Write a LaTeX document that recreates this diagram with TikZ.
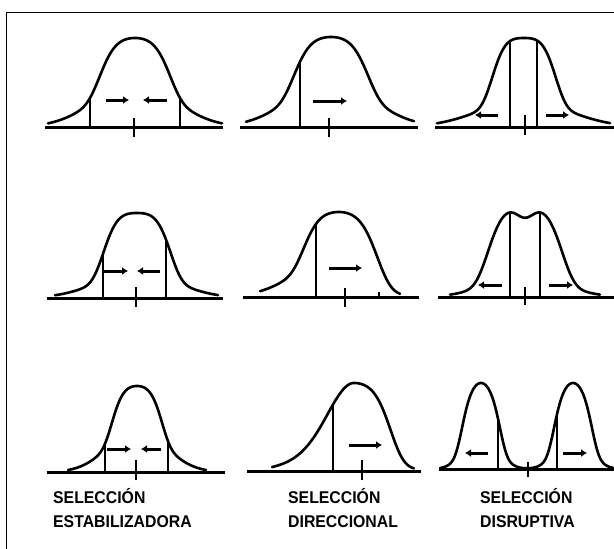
\documentclass[tikz,border=0pt]{standalone}
\usepackage{fontspec}
\usepackage{graphicx}
\setmainfont{Liberation Sans}
\usetikzlibrary{arrows.meta}
\newcommand{\lbltext}[1]{\scalebox{0.93}[1]{#1}}
\begin{document}
\begin{tikzpicture}[x=1pt,y=-1pt,
  declare function={
    Q(\dd,\ww)=exp(0-((abs(\dd)/\ww)^4));
    N(\dd,\ww)=exp(0-((abs(\dd)/\ww)^2));
    ca(\x)=127-89*(0.5*Q(\x-135,38)+0.5*N(\x-135,55));
    cb(\x)=127-90*(0.5*Q(\x-331,40)+0.5*N(\x-331,58));
    cc(\x)=127-89*(0.7*Q(\x-524,34)+0.3*N(\x-524,62));
    cd(\x)=298-85*(0.7*Q(\x-137,36)+0.3*N(\x-137,55));
    ce(\x)=297-85*((\x<339)?(0.5*Q(\x-339,38)+0.5*N(\x-339,56)):(0.7*Q(\x-339,42)+0.3*N(\x-339,40)));
    cf(\x)=297-90*(0.75*Q(\x-525,40)+0.25*N(\x-525,50)-0.12*N(\x-525,12));
    cg(\x)=472-86*(0.5*Q(\x-137,27)+0.5*N(\x-137,39.5));
    ch(\x)=471-88*((\x<354)?(0.6*N(\x-354,34)+0.4*N(\x-354,55)):(0.7*Q(\x-354,40)+0.3*N(\x-354,38)));
    ci(\x)=469-86*(0.5*Q(\x-481,21)+0.5*N(\x-481,21)+0.5*Q(\x-573,21)+0.5*N(\x-573,21));
  },
  distcurve/.style={line width=2.6pt, line join=round, line cap=round},
  baseaxis/.style={line width=3pt},
  cutline/.style={line width=2.4pt},
  thincut/.style={line width=1.3pt},
  midcut/.style={line width=1.8pt},
  meantick/.style={line width=2.4pt},
  selarrow/.style={line width=3pt, -{Latex[length=6pt,width=8pt]}},
  frameline/.style={line width=1.6pt},
  lbl/.style={font=\fontsize{17}{18}\selectfont\bfseries, inner sep=0pt, anchor=base west}
]
\useasboundingbox (0,0) rectangle (614,549);
% frame
\draw[frameline] (614,12.5) -- (6.5,12.5) -- (6.5,549);

% ---------- row 1 ----------
% curve 1 (stabilizing)
\draw[baseaxis] (45,127) -- (223,127);
\draw[distcurve] plot[domain=48:222,samples=120] (\x,{ca(\x)});
\draw[cutline] (90,127) -- (90,{ca(90)});
\draw[cutline] (180,127) -- (180,{ca(180)});
\draw[meantick] (134,118) -- (134,137);
\draw[selarrow] (106,100) -- (129,100);
\draw[selarrow] (167,100) -- (143,100);

% curve 2 (directional)
\draw[baseaxis] (240,127) -- (418,127);
\draw[distcurve] plot[domain=246:414,samples=120] (\x,{cb(\x)});
\draw[cutline] (300,127) -- (300,{cb(300)});
\draw[meantick] (329,118) -- (329,137);
\draw[selarrow] (313,101) -- (347,101);

% curve 3 (disruptive)
\draw[baseaxis] (435,127) -- (614,127);
\draw[distcurve] plot[domain=437:610,samples=120] (\x,{cc(\x)});
\draw[cutline] (510,127) -- (510,{cc(510)});
\draw[thincut] (537,127) -- (537,{cc(537)});
\draw[meantick] (525,115) -- (525,135);
\draw[selarrow] (498,115) -- (475,115);
\draw[selarrow] (546,115) -- (569,115);

% ---------- row 2 ----------
% curve 4
\draw[baseaxis] (47,298) -- (223,298);
\draw[distcurve] plot[domain=55:218,samples=120] (\x,{cd(\x)});
\draw[cutline] (103,298) -- (103,{cd(103)});
\draw[thincut] (166,298) -- (166,{cd(166)});
\draw[meantick] (136,287) -- (136,307);
\draw[selarrow] (103,271) -- (128,271);
\draw[selarrow] (160,271) -- (137,271);

% curve 5
\draw[baseaxis] (243,297) -- (419,297);
\draw[distcurve] plot[domain=260:400,samples=120] (\x,{ce(\x)});
\draw[thincut] (316,297) -- (316,{ce(316)});
\draw[meantick] (345,288) -- (345,307);
\draw[thincut] (379,297) -- (379,292);
\draw[selarrow] (329,268) -- (362,268);

% curve 6
\draw[baseaxis] (438,297) -- (614,297);
\draw[distcurve] plot[domain=450:600,samples=150] (\x,{cf(\x)});
\draw[cutline] (510,297) -- (510,{cf(510)});
\draw[cutline] (540,297) -- (540,{cf(540)});
\draw[meantick] (525,287) -- (525,305);
\draw[selarrow] (502,285) -- (478,285);
\draw[selarrow] (549,285) -- (573,285);

% ---------- row 3 ----------
% curve 7
\draw[baseaxis] (47,472) -- (225,472);
\draw[distcurve] plot[domain=68:206,samples=120] (\x,{cg(\x)});
\draw[cutline] (105,472) -- (105,{cg(105)});
\draw[cutline] (168,472) -- (168,{cg(168)});
\draw[meantick] (136,460) -- (136,480);
\draw[selarrow] (107,449) -- (131,449);
\draw[selarrow] (161,449) -- (141,449);

% curve 8
\draw[baseaxis] (247,471) -- (421,471);
\draw[distcurve] plot[domain=272:414,samples=120] (\x,{ch(\x)});
\draw[cutline] (333,471) -- (333,{ch(333)});
\draw[meantick] (362,460) -- (362,480);
\draw[selarrow] (349,445) -- (382,445);

% curve 9
\draw[baseaxis] (439,469) -- (614,469);
\draw[distcurve] plot[domain=440:613,samples=160] (\x,{ci(\x)});
\draw[midcut] (498,469) -- (498,{ci(498)});
\draw[midcut] (557,469) -- (557,{ci(557)});
\draw[meantick] (528,462) -- (528,477);
\draw[selarrow] (488,453) -- (465,453);
\draw[selarrow] (563,453) -- (587,453);

% labels
\node[lbl] (l1a) at (53,503) {\lbltext{SELECCIÓN}};
\node[lbl] (l1b) at (53,527) {\lbltext{ESTABILIZADORA}};
\node[lbl] (l2a) at (288,503) {\lbltext{SELECCIÓN}};
\node[lbl] (l2b) at (288,527) {\lbltext{DIRECCIONAL}};
\node[lbl] (l3a) at (480,503) {\lbltext{SELECCIÓN}};
\node[lbl] (l3b) at (480,527) {\lbltext{DISRUPTIVA}};
\end{tikzpicture}
\end{document}
